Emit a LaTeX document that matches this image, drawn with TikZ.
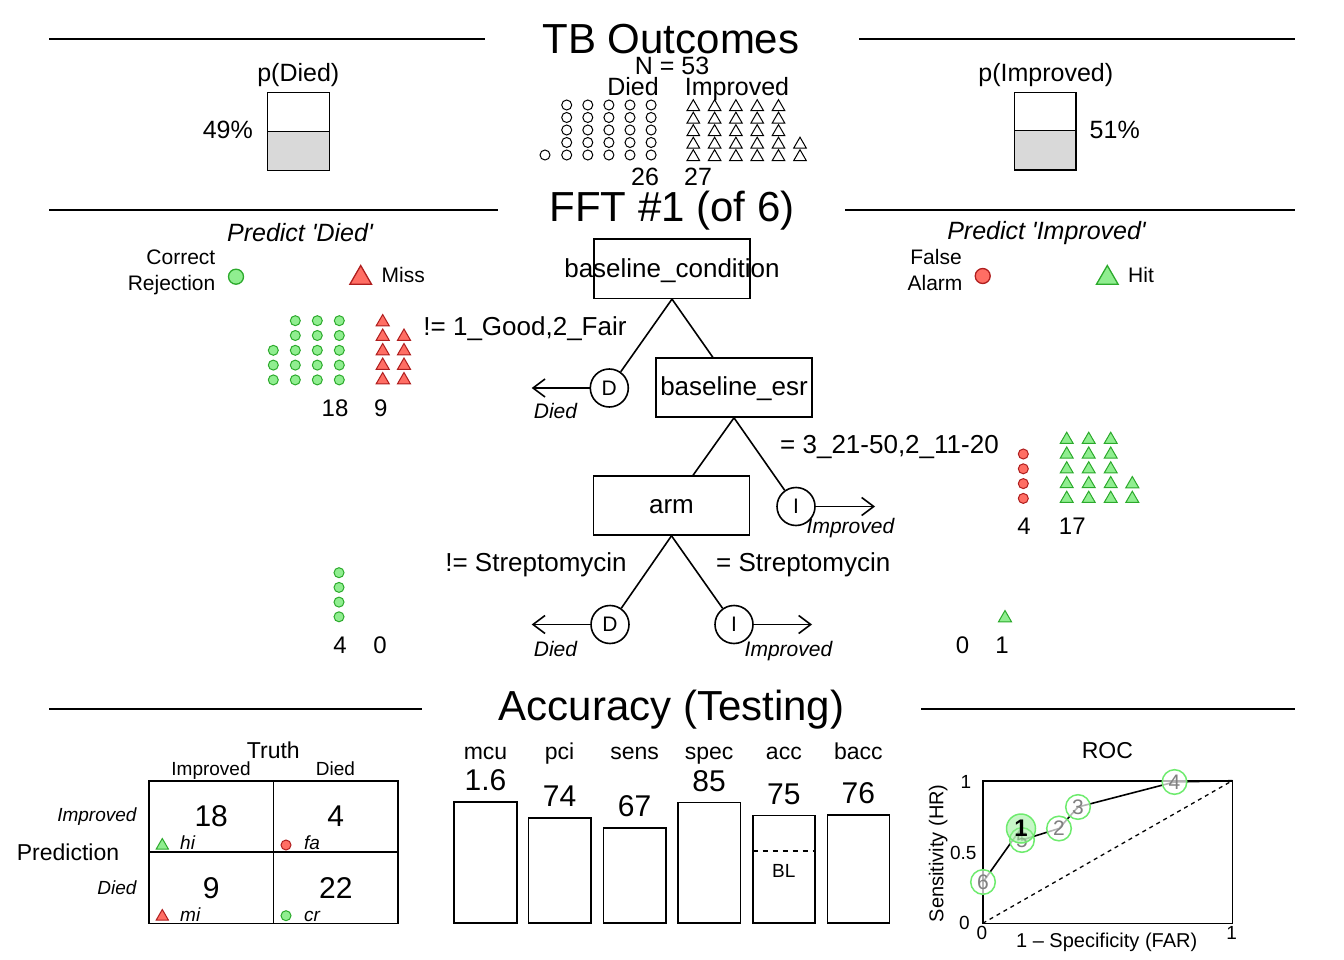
\documentclass[tikz,border=0pt]{standalone}
\usepackage{fontspec}
\setmainfont{Liberation Sans}
\usetikzlibrary{arrows.meta,shapes.geometric}
\definecolor{hitgreen}{RGB}{144,238,144}
\definecolor{hitline}{RGB}{44,170,44}
\definecolor{misred}{RGB}{255,110,100}
\definecolor{misline}{RGB}{175,30,30}
\definecolor{rocline}{RGB}{110,235,110}
\definecolor{boxgray}{RGB}{217,217,217}
\newcommand\fsz[1]{\fontsize{#1}{1.2\dimexpr#1pt\relax}\selectfont}
\tikzset{
	hdr/.style={line width=1.5pt},
	ttl/.style={font=\fsz{42}, anchor=base, inner sep=0pt},
	lbl/.style={font=\fsz{25}, anchor=base, inner sep=0pt},
	sml/.style={font=\fsz{21}, anchor=base, inner sep=0pt},
	tny/.style={font=\fsz{19}, anchor=base, inner sep=0pt},
	treebox/.style={draw, line width=1.6pt, minimum width=156pt, minimum height=59pt, inner sep=0pt},
	leaf/.style={circle, draw, line width=1.6pt, minimum size=38pt, inner sep=0pt, font=\fsz{21}},
	edge/.style={line width=1.6pt},
	exit/.style={line width=1.6pt, -{Straight Barb[length=12pt,width=18pt]}},
	dotk/.style={circle, draw, line width=1pt, fill=white, inner sep=0pt, minimum size=10pt},
	trik/.style={regular polygon, regular polygon sides=3, draw, line width=1pt, fill=white, inner sep=0pt, minimum size=15pt},
	dotg/.style={dotk, draw=hitline, fill=hitgreen},
	dotr/.style={dotk, draw=misline, fill=misred},
	trig/.style={trik, draw=hitline, fill=hitgreen},
	trir/.style={trik, draw=misline, fill=misred},
	cell/.style={draw, line width=1.6pt, minimum width=124.6pt, minimum height=71.3pt, inner sep=0pt, font=\fsz{30}},
	bar/.style={draw, line width=1.6pt},
	rocpt/.style={circle, draw=rocline, line width=1.5pt, fill=white, fill opacity=0.7, text opacity=1, minimum size=24.6pt, inner sep=0pt, text=black!50, font=\fsz{21}},
	rocbest/.style={rocpt, fill=hitgreen, fill opacity=0.5, minimum size=29pt, text=black, font=\fsz{24}\bfseries}
}

\begin{document}
\begin{tikzpicture}[x=1pt, y=-1pt]
	\useasboundingbox (0,0) rectangle (1344,960);
	
	%%%%% TB OUTCOMES %%%%%
	\draw[hdr] (49,39) -- (485,39);
	\draw[hdr] (859,39) -- (1295,39);
	\node[ttl] (tOut) at (671,54) {TB Outcomes};
	\node[lbl] (nTot) at (672,75) {N = 53};
	\node[lbl] (hDied) at (633,96) {Died};
	\node[lbl] (hImp) at (737,96) {Improved};
	
	\foreach \c in {0,...,4}
		\foreach \r in {0,...,4}
			\node[dotk] (td\c\r) at ({566.7+21.1*\c},{105+12.5*\r}) {};
	\node[dotk] (td5) at (545,155) {};
	\foreach \c in {0,...,4}
		\foreach \r in {0,...,4}
			\node[trik, minimum size=14.6pt] (ti\c\r) at ({693.3+21.3*\c},{107+12.5*\r}) {};
	\node[trik, minimum size=14.6pt] (ti53) at (800,144.5) {};
	\node[trik, minimum size=14.6pt] (ti54) at (800,157) {};
	\node[lbl] (nDied) at (645,186) {26};
	\node[lbl] (nImp) at (698,186) {27};
	
	% base rates
	\draw[line width=1.6pt, fill=boxgray] (267.3,131.7) rectangle (329.3,170.7);
	\draw[line width=1.6pt] (267.3,92.7) rectangle (329.3,131.7);
	\node[lbl] (pD) at (298.3,81.7) {p(Died)};
	\node[lbl, anchor=base east] (pDv) at (253,139) {49\%};
	\draw[line width=1.6pt, fill=boxgray] (1014.3,130.7) rectangle (1076,170);
	\draw[line width=1.6pt] (1014.3,92.7) rectangle (1076,130.7);
	\node[lbl] (pI) at (1045.8,81.7) {p(Improved)};
	\node[lbl, anchor=base west] (pIv) at (1089.5,139) {51\%};
	
	%%%%% TREE %%%%%
	\draw[hdr] (49,210) -- (498,210);
	\draw[hdr] (845,210) -- (1295,210);
	\node[ttl] (tFFT) at (672,222) {FFT \#1 (of 6)};
	\node[lbl] (prD) at (300,241) {\itshape Predict \textquotesingle Died\textquotesingle};
	\node[lbl] (prI) at (1046.5,240) {\itshape Predict \textquotesingle Improved\textquotesingle};
	
	% legends
	\node[sml, anchor=base east] (lgCR) at (215.5,265) {Correct};
	\node[sml, anchor=base east] (lgCR2) at (215.5,290) {Rejection};
	\node[dotg, minimum size=15pt, line width=1.3pt] (lgCRm) at (236,276.7) {};
	\node[trir, minimum size=25pt, line width=1.3pt] (lgMIm) at (360.7,278) {};
	\node[sml, anchor=base west] (lgMI) at (381.5,282) {Miss};
	\node[sml] (lgFA) at (936,265) {False};
	\node[sml] (lgFA2) at (935,290) {Alarm};
	\node[dotr, minimum size=15pt, line width=1.3pt] (lgFAm) at (982.7,276) {};
	\node[trig, minimum size=25pt, line width=1.3pt] (lgHIm) at (1107.3,278) {};
	\node[sml, anchor=base west] (lgHI) at (1128,282) {Hit};
	
	% nodes
	\node[treebox] (cond) at (672,268.8) {};
	\node[lbl, font=\fsz{26}] (condT) at (672,277) {baseline\_condition};
	\node[treebox] (esr) at (734,387.5) {};
	\node[lbl, font=\fsz{26}] (esrT) at (734,395.5) {baseline\_esr};
	\node[treebox] (arm) at (671.5,505.5) {};
	\node[lbl, font=\fsz{26}] (armT) at (671.5,513) {arm};
	
	\node[leaf] (dA) at (609.3,388) {D};
	\node[leaf] (iB) at (796,506.5) {I};
	\node[leaf] (dC) at (610,624.5) {D};
	\node[leaf] (iC) at (734,624.5) {I};
	\coordinate (dAx) at (531.7,388);
	\coordinate (iBx) at (875,506.5);
	\coordinate (dCx) at (531.7,624.5);
	\coordinate (iCx) at (812,624.5);
	
	\draw[edge] (cond.south) -- (dA);
	\draw[edge] (cond.south) -- (esr);
	\draw[edge] (esr.south) -- (arm);
	\draw[edge] (esr.south) -- (iB);
	\draw[edge] (arm.south) -- (dC);
	\draw[edge] (arm.south) -- (iC);
	\draw[exit] (dA) -- (dAx);
	\draw[exit] (iB) -- (iBx);
	\draw[exit] (dC) -- (dCx);
	\draw[exit] (iC) -- (iCx);
	
	\node[sml] (dAl) at (555.5,418.5) {\itshape Died};
	\node[sml] (iBl) at (850.5,533) {\itshape Improved};
	\node[sml] (dCl) at (555.5,656.5) {\itshape Died};
	\node[sml] (iCl) at (788.5,656.5) {\itshape Improved};
	
	\node[lbl, font=\fsz{26}] (cut1) at (525,335) {!= 1\_Good,2\_Fair};
	\node[lbl, font=\fsz{26}] (cut2) at (889.5,453.5) {= 3\_21-50,2\_11-20};
	\node[lbl, font=\fsz{26}] (cut3) at (536,571.7) {!= Streptomycin};
	\node[lbl, font=\fsz{26}] (cut4) at (803.3,571.7) {= Streptomycin};
	
	% level icons
	\foreach \c in {1,2,3}
		\foreach \r in {0,...,4}
			\node[dotg] (aCR\c\r) at ({273.3+22*\c},{320.7+14.8*\r}) {};
	\foreach \r in {2,3,4}
		\node[dotg] (aCR0\r) at (273.3,{320.7+14.8*\r}) {};
	\foreach \r in {0,...,4}
		\node[trir] (aMI0\r) at (382.7,{322+14.5*\r}) {};
	\foreach \r in {1,...,4}
		\node[trir] (aMI1\r) at (404,{322+14.5*\r}) {};
	\node[lbl, font=\fsz{24}] (aCRn) at (335,416.5) {18};
	\node[lbl, font=\fsz{24}] (aMIn) at (380.7,416.5) {9};
	
	\foreach \r in {0,...,3}
		\node[dotr] (bFA\r) at (1023.3,{454+14.8*\r}) {};
	\foreach \c in {0,1,2}
		\foreach \r in {0,...,4}
			\node[trig] (bHI\c\r) at ({1066.7+22*\c},{439.7+14.75*\r}) {};
	\node[trig] (bHI33) at (1132.3,484) {};
	\node[trig] (bHI34) at (1132.3,498.7) {};
	\node[lbl, font=\fsz{24}] (bFAn) at (1024,534) {4};
	\node[lbl, font=\fsz{24}] (bHIn) at (1072.3,534) {17};
	
	\foreach \r in {0,...,3}
		\node[dotg] (cCR\r) at (339,{572.7+14.7*\r}) {};
	\node[lbl, font=\fsz{24}] (cCRn) at (340,653.5) {4};
	\node[lbl, font=\fsz{24}] (cMIn) at (380,653.5) {0};
	\node[trig] (cHI0) at (1005,618) {};
	\node[lbl, font=\fsz{24}] (cFAn) at (962.5,653.5) {0};
	\node[lbl, font=\fsz{24}] (cHIn) at (1002,653.5) {1};
	
	%%%%% ACCURACY %%%%%
	\draw[hdr] (49,709) -- (422,709);
	\draw[hdr] (921,709) -- (1295,709);
	\node[ttl] (tAcc) at (671.5,720) {Accuracy (Testing)};
	
	% confusion table
	\node[font=\fsz{23}, anchor=base] (mTr) at (273.3,758.3) {Truth};
	\node[tny] (mTi) at (211,775) {Improved};
	\node[tny] (mTd) at (335.5,775) {Died};
	\node[font=\fsz{23}, anchor=base] (mPr) at (68,860.7) {Prediction};
	\node[tny, anchor=base east] (mPi) at (136.7,821.7) {\itshape Improved};
	\node[tny, anchor=base east] (mPd) at (136.7,894) {\itshape Died};
	\node[cell] (cHi) at (211.2,816.5) {18};
	\node[cell] (cFa) at (335.8,816.5) {4};
	\node[cell] (cMi) at (211.2,887.8) {9};
	\node[cell] (cCr) at (335.8,887.8) {22};
	\node[trig, minimum size=14pt] (kHi) at (162.3,845.5) {};
	\node[tny, anchor=base west] (kHiT) at (180,849.3) {\itshape hi};
	\node[dotr] (kFa) at (286,845) {};
	\node[tny, anchor=base west] (kFaT) at (304,849.3) {\itshape fa};
	\node[trir, minimum size=14pt] (kMi) at (162.3,916.5) {};
	\node[tny, anchor=base west] (kMiT) at (180,921.7) {\itshape mi};
	\node[dotg] (kCr) at (286,915.7) {};
	\node[tny, anchor=base west] (kCrT) at (304,921.7) {\itshape cr};
	
	% bars
	\foreach \nm/\xl/\xr/\tp/\v in {mcu/454/517/801.7/1.6, pci/528.3/591/818/74, sens/603.3/666/828/67, spec/678/740.3/802.5/85, acc/752.7/815/815.5/75, bacc/827.3/889.3/815/76}{
		\draw[bar] (\xl,923) rectangle (\xr,\tp);
		\node[font=\fsz{23}, anchor=base] (bn-\nm) at ({(\xl+\xr)/2},759) {\nm};
		\node[font=\fsz{30}, anchor=base] (bv-\nm) at ({(\xl+\xr)/2},{\tp-11.5}) {\v};
	}
	\draw[line width=1.5pt, dash pattern=on 5pt off 5pt] (752.7,851) -- (815,851);
	\node[tny] (blT) at (783.8,877) {BL};
	
	% roc
	\node[font=\fsz{23}, anchor=base] (rocT) at (1107.3,758.3) {ROC};
	\draw[line width=1.6pt] (982.7,780.7) rectangle (1232.3,923.3);
	\draw[line width=1.3pt, dash pattern=on 4pt off 4pt] (982.7,923.3) -- (1232.3,780.7);
	\node[font=\fsz{19}] (ty1) at (966,781.7) {1};
	\node[font=\fsz{19}] (ty5) at (963.3,853.3) {0.5};
	\node[font=\fsz{19}] (ty0) at (964.5,923.3) {0};
	\node[font=\fsz{19}] (tx0) at (982,932.7) {0};
	\node[font=\fsz{19}] (tx1) at (1231.7,932.7) {1};
	\node[font=\fsz{20}, rotate=90] (yLab) at (938.3,853.3) {Sensitivity (HR)};
	\node[font=\fsz{20}, anchor=base] (xLab) at (1106.7,947) {1 – Specificity (FAR)};
	
	\coordinate (p6) at (983,882);
	\coordinate (p1) at (1021,828.5);
	\coordinate (p5) at (1022,840);
	\coordinate (p2) at (1059,828.5);
	\coordinate (p3) at (1078,807);
	\coordinate (p4) at (1174.5,782);
	\coordinate (pEnd) at (1232.3,780.7);
	\draw[line width=1.6pt] (p6) -- (p1) -- (p5) -- (p2) -- (p3) -- (p4) -- (pEnd);
	\node[rocpt] (r6) at (p6) {6};
	\node[rocpt] (r5) at (p5) {5};
	\node[rocpt] (r2) at (p2) {2};
	\node[rocpt] (r3) at (p3) {3};
	\node[rocpt] (r4) at (p4) {4};
	\node[rocbest] (r1) at (p1) {1};
	
\end{tikzpicture}
\end{document}
